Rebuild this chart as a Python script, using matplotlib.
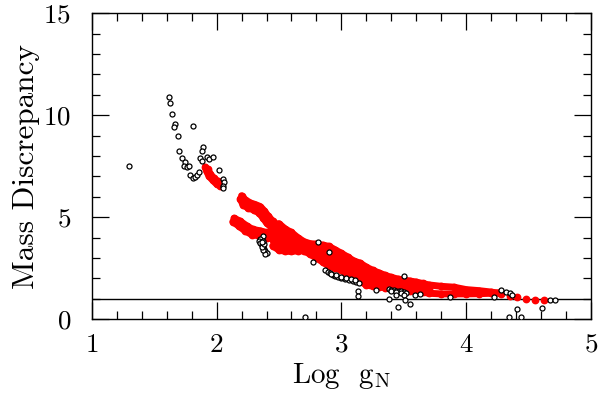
import matplotlib
matplotlib.use('Agg')
import matplotlib.pyplot as plt
from matplotlib.ticker import MultipleLocator

plt.rcParams['font.family'] = ['cmr10', 'DejaVu Serif']
plt.rcParams['mathtext.fontset'] = 'cm'
plt.rcParams['axes.formatter.use_mathtext'] = True

# ---- black open circles (log gN, mass discrepancy) ----
black_x = [1.30, 1.62, 1.63, 1.64, 1.67, 1.66, 1.81, 1.69, 1.70, 1.72, 1.75, 1.74, 1.76, 1.78, 1.79,
           1.81, 1.83, 1.84, 1.86, 1.89, 1.88, 1.87, 1.88, 1.92, 1.94, 1.97, 2.02, 2.05, 2.06, 2.05, 2.05,
           2.37, 2.35, 2.34, 2.35, 2.36, 2.37, 2.38, 2.39, 2.40, 2.39, 2.37, 2.36, 2.38, 2.37, 2.36,
           2.81, 2.90, 2.77, 2.71,
           2.87, 2.89, 2.91, 2.93, 2.95, 2.97, 3.00, 3.03, 3.06, 3.09, 3.12, 3.14, 2.92, 2.96, 3.00, 3.04, 3.08, 3.11,
           3.38, 3.40, 3.42, 3.44, 3.46, 3.48, 3.50, 3.52, 3.40, 3.44, 3.48,
           3.13, 3.13, 3.28, 3.38, 3.45, 3.44, 3.50, 3.51, 3.55, 3.59, 3.63, 3.50, 3.87,
           4.22, 4.28, 4.32, 4.35, 4.37, 4.41, 4.34, 4.44, 4.61, 4.67, 4.71]
black_y = [7.49, 10.88, 10.58, 10.06, 9.57, 9.41, 9.46, 8.96, 8.24, 7.91, 7.72, 7.50, 7.45, 7.50, 7.07,
           6.90, 6.97, 7.08, 7.20, 8.42, 8.24, 7.88, 7.77, 7.93, 7.83, 7.96, 7.31, 6.85, 6.71, 6.55, 6.43,
           4.08, 3.95, 3.85, 3.75, 3.65, 3.55, 3.45, 3.35, 3.25, 3.20, 3.40, 3.55, 3.70, 3.85, 3.80,
           3.78, 3.29, 2.80, 0.13,
           2.40, 2.32, 2.25, 2.18, 2.13, 2.08, 2.03, 1.98, 1.93, 1.88, 1.80, 1.76, 2.20, 2.15, 2.09, 2.03, 1.96, 1.90,
           1.47, 1.44, 1.42, 1.40, 1.38, 1.36, 1.33, 1.30, 1.38, 1.34, 1.30,
           1.37, 1.14, 1.42, 1.01, 0.58, 1.17, 1.17, 0.93, 0.75, 1.17, 1.22, 2.10, 1.09,
           1.09, 1.42, 1.33, 1.26, 1.17, 0.52, 0.13, 0.13, 0.57, 0.96, 0.93]

# ---- red filled points, grouped in dense tracks ----
band_x = [2.45, 2.50, 2.55, 2.60, 2.65, 2.70, 2.75, 2.80, 2.85, 2.90, 2.95, 3.00, 3.05, 3.10, 3.15, 3.20,
          3.25, 3.30, 3.35, 3.40, 3.45, 3.50, 3.55, 3.60, 3.65, 3.70, 3.80, 3.90, 4.00, 4.10, 4.20, 4.28]
red_top_y = [4.65, 4.68, 4.42, 4.25, 4.00, 3.80, 3.70, 3.68, 3.63, 3.57, 3.40, 3.23, 3.05, 2.85, 2.75, 2.55,
             2.40, 2.27, 2.15, 2.05, 1.97, 1.92, 1.87, 1.82, 1.75, 1.68, 1.61, 1.57, 1.45, 1.40, 1.33, 1.25]
red_bot_y = [3.60, 3.38, 3.33, 3.32, 3.35, 3.35, 3.18, 3.00, 2.80, 2.60, 2.50, 2.40, 2.18, 1.97, 1.87, 1.67,
             1.62, 1.58, 1.55, 1.51, 1.48, 1.45, 1.40, 1.37, 1.33, 1.27, 1.24, 1.24, 1.24, 1.25, 1.27, 1.30]
red_q1_y = [4.40, 4.36, 4.15, 4.01, 3.84, 3.69, 3.58, 3.52, 3.42, 3.32, 3.17, 3.02, 2.83, 2.63, 2.53, 2.33,
            2.20, 2.10]
red_mid_y = [4.15, 4.05, 3.88, 3.78, 3.68, 3.58, 3.45, 3.36, 3.22, 3.07, 2.94, 2.81, 2.60, 2.40, 2.30, 2.10,
             2.00, 1.92, 1.85, 1.78, 1.72, 1.68, 1.63, 1.60, 1.54, 1.48]
red_q3_y = [3.88, 3.72, 3.62, 3.54, 3.51, 3.46, 3.33, 3.19, 3.01, 2.82, 2.70, 2.59, 2.38, 2.18, 2.08, 1.88,
            1.80, 1.75]

upper1_x = [2.20, 2.23, 2.27, 2.31, 2.35, 2.38, 2.41, 2.45]
upper1_y = [6.05, 5.85, 5.70, 5.62, 5.52, 5.32, 5.08, 4.80]
upper2_x = [2.19, 2.21, 2.25, 2.30, 2.34, 2.37, 2.40, 2.44]
upper2_y = [5.90, 5.62, 5.45, 5.35, 5.20, 4.98, 4.72, 4.50]
left1_x = [2.14, 2.19, 2.24, 2.29, 2.35, 2.40, 2.45]
left1_y = [4.95, 4.80, 4.58, 4.40, 4.33, 4.25, 4.20]
left2_x = [2.13, 2.18, 2.23, 2.28, 2.34, 2.40, 2.45]
left2_y = [4.78, 4.55, 4.32, 4.15, 4.08, 4.00, 3.95]
blob1_x = [1.91, 1.92, 1.94, 1.97, 2.00, 2.03, 2.04]
blob1_y = [7.45, 7.25, 7.00, 6.80, 6.62, 6.55, 6.70]
blob2_x = [1.93, 1.95, 1.98, 2.01]
blob2_y = [7.35, 7.10, 6.90, 6.75]
tail_x = [4.35, 4.41, 4.48, 4.55, 4.62]
tail_y = [1.15, 1.09, 1.01, 0.94, 0.93]

tracks = [
    (band_x, red_top_y), (band_x, red_bot_y),
    (band_x[:len(red_q1_y)], red_q1_y), (band_x[:len(red_mid_y)], red_mid_y),
    (band_x[:len(red_q3_y)], red_q3_y),
    (upper1_x, upper1_y), (upper2_x, upper2_y),
    (left1_x, left1_y), (left2_x, left2_y),
    (blob1_x, blob1_y), (blob2_x, blob2_y),
]

fig = plt.figure(figsize=(6.0, 3.97), dpi=100)
ax = fig.add_axes([0.153, 0.196, 0.832, 0.771])

red = '#ff0000'
for tx, ty in tracks:
    ax.plot(tx, ty, color=red, lw=5.0, solid_capstyle='round', solid_joinstyle='round',
            marker='o', ms=4.6, mec=red, mfc=red, zorder=2)
ax.plot(tail_x, tail_y, ls='none', marker='o', ms=4.6, mec=red, mfc=red, zorder=2)

ax.plot(black_x, black_y, ls='none', marker='o', ms=3.6, mew=0.9, mec='black', mfc='white', zorder=3)

ax.axhline(1.0, color='black', lw=1.0, zorder=1)

ax.set_xlim(1, 5)
ax.set_ylim(0, 15)
ax.xaxis.set_major_locator(MultipleLocator(1))
ax.xaxis.set_minor_locator(MultipleLocator(0.2))
ax.yaxis.set_major_locator(MultipleLocator(5))
ax.yaxis.set_minor_locator(MultipleLocator(1))
ax.tick_params(which='both', direction='in', top=True, right=True, width=0.9, labelsize=19.5)
ax.tick_params(which='major', length=12)
ax.tick_params(which='minor', length=6)
ax.tick_params(axis='x', pad=10)
ax.tick_params(axis='y', pad=15)
for s in ax.spines.values():
    s.set_linewidth(1.0)

ax.set_xlabel(r'Log  g$_{\rm N}$', fontsize=21, labelpad=3)
ax.set_ylabel('Mass Discrepancy', fontsize=22.5, labelpad=2)

fig.savefig('out.png', dpi=100)
